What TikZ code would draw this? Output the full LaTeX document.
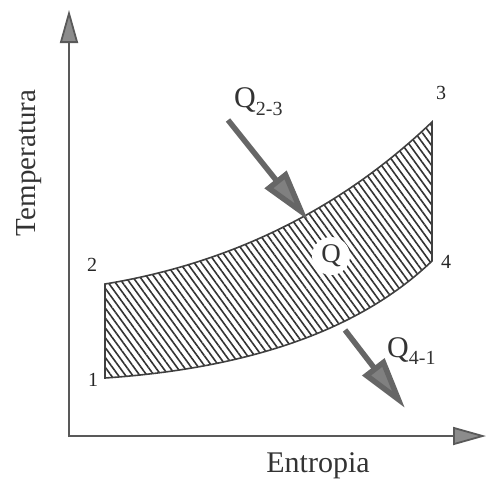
\documentclass[tikz,border=0pt]{standalone}
\usepackage{fontspec}
\setmainfont{Liberation Serif}
\usetikzlibrary{arrows.meta,patterns.meta}
\begin{document}
\begin{tikzpicture}[x=1pt,y=-1pt,
  axisline/.style={line width=1.8pt, draw=black!65, -{Triangle[length=33pt,width=18pt,fill=black!45]}},
  heatarrow/.style={line width=5.5pt, draw=black!60, -{Triangle[length=52pt,width=27pt,fill=black!50]}},
  cyclefill/.style={pattern={Lines[angle=-54,distance=5.8pt,line width=1.6pt]}, pattern color=black!80},
  cycleline/.style={line width=1.6pt, draw=black!75},
  numlabel/.style={font=\fontsize{20}{20}\selectfont, text=black!85, inner sep=0pt},
  biglabel/.style={font=\fontsize{30}{30}\selectfont, text=black!80, inner sep=0pt}
]
\useasboundingbox (0,0) rectangle (486,479);
% axes
\coordinate (O) at (69,436);
\coordinate (ytop) at (69,10);
\coordinate (xend) at (486,436);
\draw[axisline] (69,437) -- (ytop);
\draw[axisline] (68,436) -- (xend);
% cycle points
\coordinate (p1) at (105,378);
\coordinate (p2) at (105,284);
\coordinate (p3) at (432,122);
\coordinate (p4) at (432,261);
\fill[cyclefill] (p1) -- (p2) .. controls (232,263) and (341,209) .. (p3) -- (p4) .. controls (361,329) and (252,368) .. (p1) -- cycle;
\draw[cycleline] (p1) -- (p2) .. controls (232,263) and (341,209) .. (p3) -- (p4) .. controls (361,329) and (252,368) .. (p1) -- cycle;
% Q in the middle
\node[circle, fill=white, minimum size=38pt, inner sep=0pt, font=\fontsize{27}{27}\selectfont, text=black!80] (Q) at (331,256) {Q};
% heat arrows
\coordinate (a1) at (228,120);
\coordinate (a2) at (308,220);
\coordinate (b1) at (345,330);
\coordinate (b2) at (405,408);
\draw[heatarrow] (a1) -- (a2);
\draw[heatarrow] (b1) -- (b2);
% labels
\node[biglabel, anchor=base west] (q23) at (234,107) {Q\raisebox{-8pt}{\fontsize{20}{20}\selectfont 2-3}};
\node[biglabel, anchor=base west] (q41) at (387,357) {Q\raisebox{-7pt}{\fontsize{20}{20}\selectfont 4-1}};
\node[numlabel] (l1) at (93,380) {1};
\node[numlabel] (l2) at (92,265) {2};
\node[numlabel] (l3) at (441,93) {3};
\node[numlabel] (l4) at (446,262) {4};
\node[biglabel, anchor=base] (xl) at (318,472) {Entropia};
\node[biglabel, font=\fontsize{29}{29}\selectfont, anchor=base, rotate=90] (yl) at (35,163) {Temperatura};
\end{tikzpicture}
\end{document}
